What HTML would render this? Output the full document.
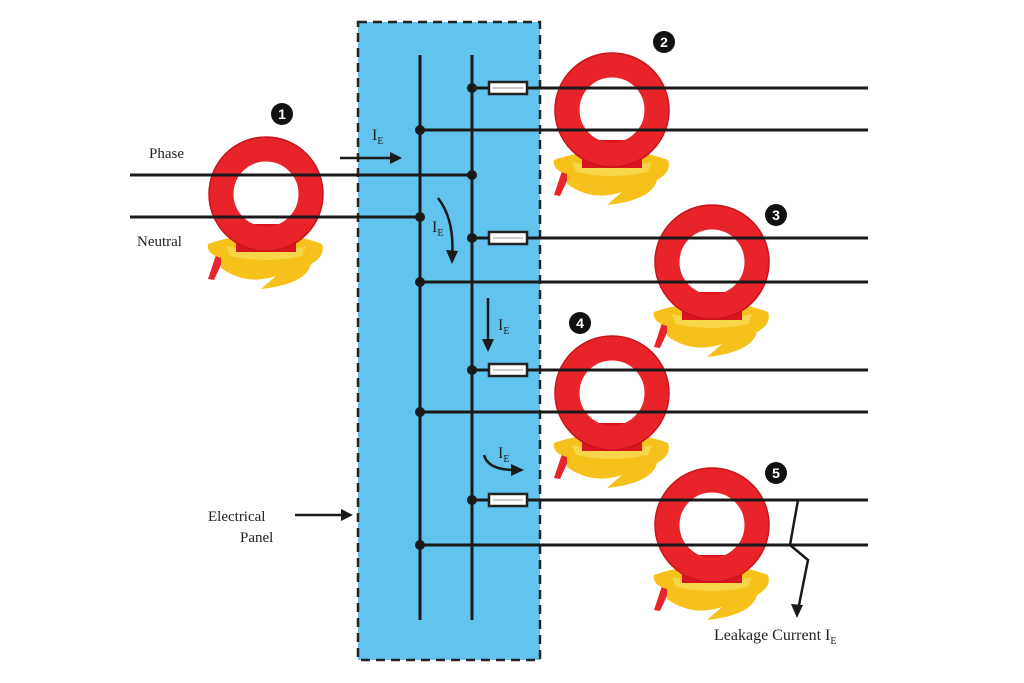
<!DOCTYPE html>
<html><head><meta charset="utf-8"><style>
html,body{margin:0;padding:0;background:#fff}
svg{display:block}
text{font-family:"Liberation Serif",serif;fill:#222}
</style></head><body>
<svg width="1024" height="683" viewBox="0 0 1024 683" xmlns="http://www.w3.org/2000/svg">
<defs>
<g id="clamp">
  <path d="M-48,55 L-58,85 L-52,86 L-40,60 Z" fill="#e8232a"/>
  <path d="M-58,50 Q-60,60 -45,64 L-45,74 Q-20,92 10,82 L-5,95 Q40,90 45,70 Q60,62 56,50 Q30,40 0,42 Q-30,40 -58,50 Z" fill="#f5c11a"/>
  <path d="M-40,52 Q0,62 40,52 L36,62 Q0,70 -36,62 Z" fill="#f7d64a"/>
  <rect x="-30" y="30" width="60" height="28" fill="#d8161f"/>
  <circle cx="0" cy="0" r="45" fill="none" stroke="#e8232a" stroke-width="25"/>
  <circle cx="0" cy="0" r="57" fill="none" stroke="#c8141c" stroke-width="1.5"/>
</g>
<g id="fuse"><rect x="-19" y="-6" width="38" height="12" fill="#fff" stroke="#222" stroke-width="2.5"/><line x1="-15" y1="0" x2="15" y2="0" stroke="#bbb" stroke-width="1.5"/></g>
</defs>
<rect x="358" y="22" width="182" height="638" fill="#62c3ee" stroke="#222" stroke-width="2.5" stroke-dasharray="9,6"/>
<use href="#clamp" x="266" y="194"/>
<use href="#clamp" x="612" y="110"/>
<use href="#clamp" x="712" y="262"/>
<use href="#clamp" x="612" y="393"/>
<use href="#clamp" x="712" y="525"/>
<g stroke="#1a1a1a" stroke-width="3" fill="none">
  <line x1="420" y1="55" x2="420" y2="620"/>
  <line x1="472" y1="55" x2="472" y2="620"/>
  <line x1="130" y1="175" x2="472" y2="175"/>
  <line x1="130" y1="217" x2="420" y2="217"/>
  <line x1="472" y1="88" x2="868" y2="88"/>
  <line x1="420" y1="130" x2="868" y2="130"/>
  <line x1="472" y1="238" x2="868" y2="238"/>
  <line x1="420" y1="282" x2="868" y2="282"/>
  <line x1="472" y1="370" x2="868" y2="370"/>
  <line x1="420" y1="412" x2="868" y2="412"/>
  <line x1="472" y1="500" x2="868" y2="500"/>
  <line x1="420" y1="545" x2="868" y2="545"/>
</g>
<g fill="#1a1a1a">
  <circle cx="472" cy="88" r="5"/><circle cx="420" cy="130" r="5"/><circle cx="472" cy="175" r="5"/><circle cx="420" cy="217" r="5"/>
  <circle cx="472" cy="238" r="5"/><circle cx="420" cy="282" r="5"/><circle cx="472" cy="370" r="5"/><circle cx="420" cy="412" r="5"/>
  <circle cx="472" cy="500" r="5"/><circle cx="420" cy="545" r="5"/>
</g>
<use href="#fuse" x="508" y="88"/><use href="#fuse" x="508" y="238"/><use href="#fuse" x="508" y="370"/><use href="#fuse" x="508" y="500"/>
<g stroke="#1a1a1a" stroke-width="2.5" fill="none">
  <line x1="340" y1="158" x2="395" y2="158"/>
  <path d="M438,198 Q455,220 452,258"/>
  <line x1="488" y1="298" x2="488" y2="345"/>
  <path d="M484,455 Q488,470 515,470"/>
  <line x1="295" y1="515" x2="345" y2="515"/>
  <path d="M798,500 L790,545 L808,560 L798,610"/>
</g>
<g fill="#1a1a1a">
  <path d="M402,158 L390,152 L390,164 Z"/>
  <path d="M452,264 L446,250 L458,251 Z"/>
  <path d="M488,352 L482,339 L494,339 Z"/>
  <path d="M524,470 L511,464 L511,476 Z"/>
  <path d="M353,515 L341,509 L341,521 Z"/>
  <path d="M797,618 L791,604 L803,605 Z"/>
</g>
<g font-size="15">
  <text x="149" y="158">Phase</text>
  <text x="137" y="246">Neutral</text>
  <text x="208" y="521">Electrical</text>
  <text x="240" y="542">Panel</text>
  <text x="714" y="640" font-size="16">Leakage Current I<tspan font-size="10" dy="4">E</tspan></text>
  <text x="372" y="140" font-size="16">I<tspan font-size="10" dy="4">E</tspan></text>
  <text x="432" y="232" font-size="16">I<tspan font-size="10" dy="4">E</tspan></text>
  <text x="498" y="330" font-size="16">I<tspan font-size="10" dy="4">E</tspan></text>
  <text x="498" y="458" font-size="16">I<tspan font-size="10" dy="4">E</tspan></text>
</g>
<g font-family="Liberation Sans,sans-serif" font-weight="bold" font-size="14" text-anchor="middle">
  <circle cx="282" cy="114" r="11" fill="#111"/><text x="282" y="119" style="fill:#fff;font-family:'Liberation Sans'">1</text>
  <circle cx="664" cy="42" r="11" fill="#111"/><text x="664" y="47" style="fill:#fff;font-family:'Liberation Sans'">2</text>
  <circle cx="776" cy="215" r="11" fill="#111"/><text x="776" y="220" style="fill:#fff;font-family:'Liberation Sans'">3</text>
  <circle cx="580" cy="323" r="11" fill="#111"/><text x="580" y="328" style="fill:#fff;font-family:'Liberation Sans'">4</text>
  <circle cx="776" cy="473" r="11" fill="#111"/><text x="776" y="478" style="fill:#fff;font-family:'Liberation Sans'">5</text>
</g>
</svg>
</body></html>
